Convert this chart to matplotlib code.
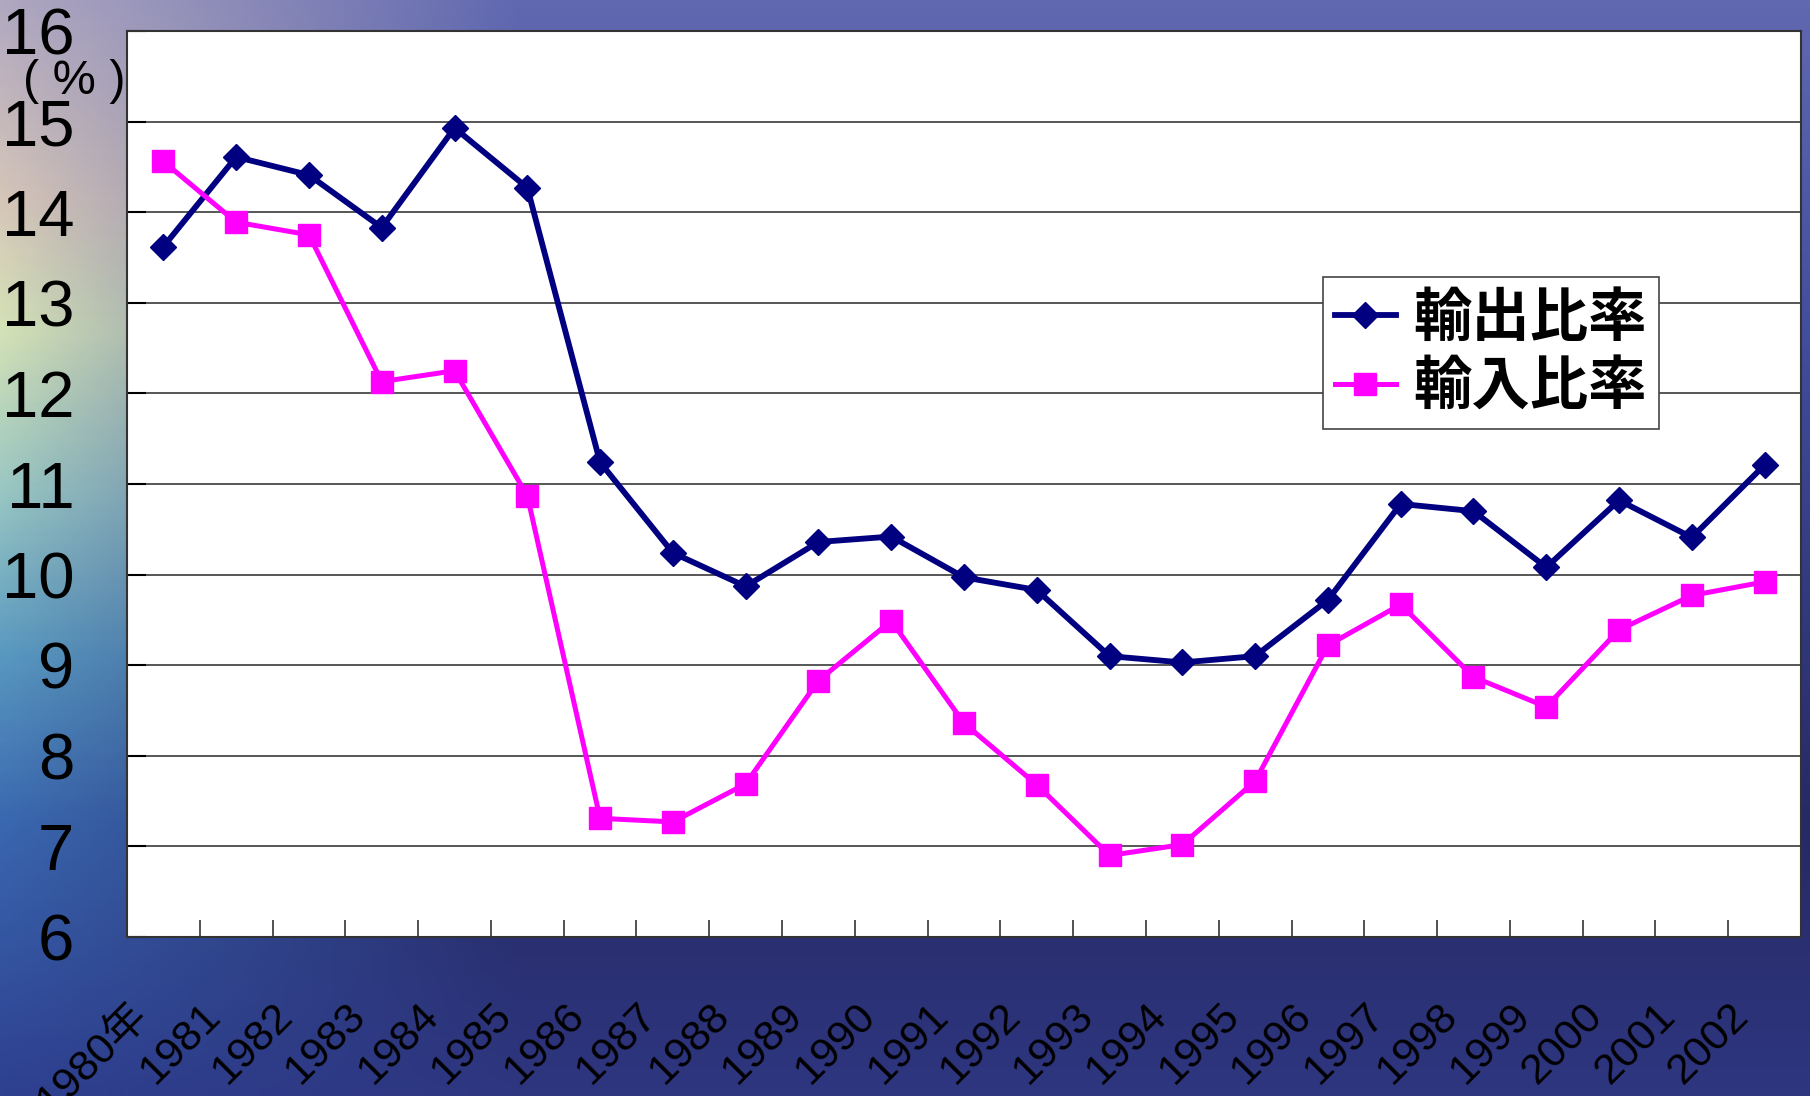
import numpy as np
import matplotlib.pyplot as plt
from matplotlib.colors import LinearSegmentedColormap
from matplotlib.transforms import ScaledTranslation

years = ['1980年'] + [str(y) for y in range(1981, 2003)]
export_ratio = [13.62, 14.61, 14.41, 13.83, 14.93, 14.27, 11.24, 10.24, 9.87, 10.36, 10.42, 9.97,
                9.83, 9.10, 9.03, 9.10, 9.72, 10.78, 10.70, 10.08, 10.82, 10.41, 11.21]
import_ratio = [14.56, 13.89, 13.75, 12.13, 12.25, 10.87, 7.31, 7.27, 7.69, 8.83, 9.49, 8.36,
                7.68, 6.90, 7.02, 7.72, 9.22, 9.67, 8.87, 8.54, 9.39, 9.77, 9.92]
series_names = ['輸出比率', '輸入比率']
y_ticks = list(range(6, 17))

W, H = 1810, 1096
fig = plt.figure(figsize=(W / 100, H / 100), dpi=100)

# background: sky/sea photo imitation
bg = fig.add_axes([0, 0, 1, 1], zorder=-1)
yy, xx = np.mgrid[0:1:300j, 0:1:500j]
left = LinearSegmentedColormap.from_list('l', [(0, '#b0a8c0'), (0.18, '#d6c6b8'), (0.3, '#d4e2b6'),
                                              (0.45, '#98c6c2'), (0.6, '#5898c0'), (0.75, '#3a68b0'),
                                              (1, '#2e4090')])
right = LinearSegmentedColormap.from_list('r', [(0, '#6068b0'), (0.3, '#424e9e'), (0.75, '#262a64'),
                                               (1, '#2e3680')])
wl = np.clip(1 - xx * 3.5, 0, 1)[..., None]
img = left(yy)[..., :3] * wl + right(yy)[..., :3] * (1 - wl)
bg.imshow(img, aspect='auto', extent=[0, 1, 0, 1], origin='upper')
bg.axis('off')

ax = fig.add_axes([127 / W, 1 - 937 / H, (1801 - 127) / W, (937 - 31) / H])
x = np.arange(len(years))
ax.plot(x, export_ratio, color='#000080', lw=4.2, marker='D', ms=13, label=series_names[0])
ax.plot(x, import_ratio, color='#ff00ff', lw=3.6, marker='s', ms=16, label=series_names[1])

ax.set_xlim(-0.5, len(years) - 0.5)
ax.set_ylim(6, 16)
ax.set_yticks(y_ticks)
ax.set_yticklabels([str(v) for v in y_ticks], family='Liberation Sans', fontsize=47)
ax.tick_params(axis='y', direction='in', length=14, width=1.5, pad=38, colors='black')
ax.grid(axis='y', color='#3a3a3a', lw=1.2)
ax.set_axisbelow(True)

ax.set_xticks(x[:-1] + 0.5)
ax.set_xticklabels([])
ax.tick_params(axis='x', which='major', direction='in', length=12, width=1.2, color='#333333')
ax.set_xticks(x, minor=True)
ax.set_xticklabels(years, minor=True, rotation=45, ha='right', rotation_mode='anchor',
                   family=['Liberation Sans', 'Noto Sans CJK JP'], fontsize=31)
ax.tick_params(axis='x', which='minor', length=0, pad=40)
shift = ScaledTranslation(-26 / 72, -2 / 72, fig.dpi_scale_trans)
for lab in ax.get_xticklabels(minor=True):
    lab.set_transform(lab.get_transform() + shift)
for s in ax.spines.values():
    s.set_color('#333333')
    s.set_linewidth(1.5)

fig.text(74 / W, 1 - 82 / H, '( % )', family='Liberation Sans', fontsize=35,
         ha='center', va='center')

leg = ax.legend(loc='upper left', bbox_to_anchor=(1323 / W, 1 - 277 / H),
                bbox_transform=fig.transFigure, prop={'family': 'Noto Sans CJK JP', 'weight': 'bold', 'size': 42},
                fancybox=False, framealpha=1, edgecolor='#444444', handlelength=1.05,
                handletextpad=0.3, labelspacing=0.15, borderpad=0.2, borderaxespad=0)
leg.get_frame().set_linewidth(1.2)

fig.savefig('out.png', dpi=100)
